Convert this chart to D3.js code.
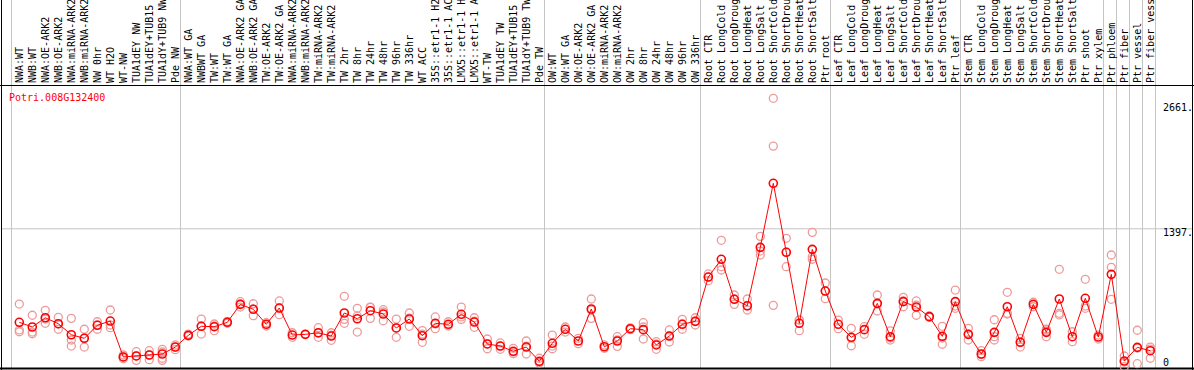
<!DOCTYPE html>
<html>
<head>
<meta charset="utf-8">
<script src="https://cdn.jsdelivr.net/npm/d3@7"></script>
<style>
  body { margin: 0; background: #fff; }
  svg { display: block; }
  text { font-family: "DejaVu Sans Mono", monospace; font-size: 10px; }
</style>
</head>
<body>
<svg id="chart" width="1194" height="370"></svg>
<script>
// sample names, one per column
const labels = [
  "NWA:WT", "NWB:WT", "NWA:OE-ARK2", "NWB:OE-ARK2", "NWA:miRNA-ARK2", "NWB:miRNA-ARK2", "NW 0hr", "WT H2O", "WT-NW",
  "TUA1dEY NW", "TUA1dEY+TUB15 NW", "TUA1dY+TUB9 NW", "Pde NW",
  "NWA:WT GA", "NWBWT GA", "TW:WT", "TW:WT GA", "NWA:OE-ARK2 GA", "NWB:OE-ARK2 GA", "TW:OE-ARK2", "TW:OE-ARK2 GA",
  "NWA:miRNA-ARK2 GA", "NWB:miRNA-ARK2 GA", "TW:miRNA-ARK2", "TW:miRNA-ARK2 GA", "TW 2hr", "TW 8hr", "TW 24hr",
  "TW 48hr", "TW 96hr", "TW 336hr", "WT ACC", "35S::etr1-1 H2O", "35S::etr1-1 ACC", "LMX5::etr1-1 H2O",
  "LMX5::etr1-1 ACC", "WT-TW", "TUA1dEY TW", "TUA1dEY+TUB15 TW", "TUA1dY+TUB9 TW", "Pde TW",
  "OW:WT", "OW:WT GA", "OW:OE-ARK2", "OW:OE-ARK2 GA", "OW:miRNA-ARK2", "OW:miRNA-ARK2 GA", "OW 2hr", "OW 8hr",
  "OW 24hr", "OW 48hr", "OW 96hr", "OW 336hr",
  "Root CTR", "Root LongCold", "Root LongDrought", "Root LongHeat", "Root LongSalt", "Root ShortCold",
  "Root ShortDrought", "Root ShortHeat", "Root ShortSalt", "Ptr root",
  "Leaf CTR", "Leaf LongCold", "Leaf LongDrought", "Leaf LongHeat", "Leaf LongSalt", "Leaf ShortCold",
  "Leaf ShortDrought", "Leaf ShortHeat", "Leaf ShortSalt", "Ptr leaf",
  "Stem CTR", "Stem LongCold", "Stem LongDrought", "Stem LongHeat", "Stem LongSalt", "Stem ShortCold",
  "Stem ShortDrought", "Stem ShortHeat", "Stem ShortSalt", "Ptr shoot", "Ptr xylem",
  "Ptr phloem", "Ptr fiber", "Ptr vessel", "Ptr fiber vessel"
];

// column index where each group starts (last one = end)
const groupBreaks = [0, 13, 41, 53, 63, 73, 84, 85, 86, 87, 88];

const meanValues = [
  450, 403, 496, 436, 325, 289, 420, 463, 101, 111, 121, 131, 201,
  319, 410, 406, 450, 631, 581, 430, 594, 322, 329, 345, 312, 544, 486, 567, 534, 393, 483, 315,
  440, 430, 531, 453, 232, 211, 158, 201, 57,
  239, 380, 262, 584, 204, 262, 386, 376, 222, 312, 430, 460,
  906, 1085, 682, 617, 1205, 1850, 1155, 440, 1185, 765,
  430, 299, 376, 641, 305, 658, 604, 507, 309, 658,
  329, 131, 349, 607, 249, 631, 349, 685, 305, 692, 302,
  933, 60, 198, 164
];

const replicateValues = [
  [634, 373, 355], [521, 335, 352], [571, 440, 483], [500, 380, 433], [490, 211, 272], [380, 201, 292],
  [456, 380, 423], [574, 396, 423], [84, 121, 101], [154, 67, 111], [164, 74, 121], [178, 151, 88, 67],
  [222, 174, 201],
  [332, 312], [483, 332, 413], [433, 366, 413], [460, 440], [658, 604, 634], [637, 517, 584], [446, 413],
  [665, 527, 594], [345, 299], [329], [396, 299, 342], [345, 269, 322], [712, 480, 440], [591, 352, 514],
  [601, 490, 604], [577, 466, 554], [483, 299, 393], [544, 410, 493], [366, 249, 332], [504, 386, 433],
  [456, 413], [604, 480, 504], [496, 400, 463], [282, 184, 232], [178, 242, 211], [188, 134, 151],
  [262, 211, 131], [88, 40, 50],
  [322, 184, 211], [403, 352], [289, 235], [685, 490, 574], [222, 188], [305, 208, 272], [393, 376],
  [446, 282, 403], [255, 178, 232], [373, 252, 312], [480, 380, 433], [496, 423, 463],
  [937, 869, 906], [1276, 977, 1010], [725, 631, 685], [685, 574, 614], [1316, 1128, 1168],
  [2706, 2225, 621], [1296, 1010, 1158], [473, 366, 473], [1356, 1111, 1085], [846, 688, 765],
  [473, 386], [390, 214, 292], [406, 329], [725, 564, 634], [363, 272, 292], [702, 607, 665],
  [665, 521, 624], [514, 500], [410, 229, 292], [775, 591, 614],
  [390, 272, 332], [164, 104, 126], [476, 305, 272], [752, 541, 534], [289, 201, 252], [652, 607],
  [380, 305, 363], [984, 524, 541], [355, 255], [883, 591, 614], [322, 282],
  [1128, 1004, 682], [111, 3, 50], [370, 33, 191], [201, 88, 181]
];

const geneName = "Potri.008G132400";
const yTicks = [0, 1397, 2661];
const yTickLabels = ["0", "1397.", "2661."];

const svg = d3.select("svg#chart"),
    svgWidth = 1194,
    labelBottom = 85,
    plotBottom = 368,
    plotRight = 1192;

const meanColor = "#ff0000",
    repColor = "#ee9a9a",
    gridColor = "#c4c4c4",
    markR = 4;

// column boundaries and centres
const xEdge = d3.scaleLinear().domain([0, labels.length]).range([11, 1155]);
const xMid = i => xEdge(i) + 8.3;
const y = d3.scaleLinear().domain([0, 2661]).range([367, 102.8]);

// horizontal grid line at the middle tick
svg.append("line")
    .attr("x1", 1).attr("x2", plotRight)
    .attr("y1", y(1397) + 0.5).attr("y2", y(1397) + 0.5)
    .attr("stroke", gridColor);

// group separators
svg.selectAll("line.group")
    .data(groupBreaks)
    .join("line")
    .attr("class", "group")
    .attr("x1", d => Math.round(xEdge(d)) + 0.5)
    .attr("x2", d => Math.round(xEdge(d)) + 0.5)
    .attr("y1", 0).attr("y2", plotBottom)
    .attr("stroke", gridColor);

// frame
svg.append("line")
    .attr("x1", 0).attr("x2", svgWidth).attr("y1", labelBottom + 0.5).attr("y2", labelBottom + 0.5)
    .attr("stroke", "#000");
svg.append("line")
    .attr("x1", 0).attr("x2", svgWidth).attr("y1", plotBottom + 0.5).attr("y2", plotBottom + 0.5)
    .attr("stroke", "#000").attr("stroke-width", 2);
svg.append("line")
    .attr("x1", 1.5).attr("x2", 1.5).attr("y1", 0).attr("y2", 370)
    .attr("stroke", "#000");
svg.append("line")
    .attr("x1", plotRight + 0.5).attr("x2", plotRight + 0.5).attr("y1", 0).attr("y2", 370)
    .attr("stroke", "#000");

// column labels, clipped at the top of the picture like the original
svg.append("clipPath").attr("id", "labelClip")
    .append("rect").attr("x", 0).attr("y", 0).attr("width", svgWidth).attr("height", labelBottom);
svg.append("g").attr("clip-path", "url(#labelClip)")
    .selectAll("text")
    .data(labels)
    .join("text")
    .attr("transform", (d, i) => `translate(${xMid(i) + 4},${labelBottom - 2}) rotate(-90)`)
    .attr("fill", "#000")
    .text(d => d);

// y tick labels
svg.selectAll("text.ytick")
    .data(yTicks)
    .join("text")
    .attr("class", "ytick")
    .attr("x", 1163)
    .attr("y", d => Math.min(y(d) + 8, 365.5))
    .attr("fill", "#000")
    .text((d, i) => yTickLabels[i]);

// gene name
svg.append("text")
    .attr("x", 9).attr("y", 101)
    .attr("fill", meanColor)
    .text(geneName);

// replicates
const reps = [];
replicateValues.forEach((vals, i) => vals.forEach(v => reps.push({ i: i, v: v })));
svg.append("g")
    .selectAll("circle")
    .data(reps)
    .join("circle")
    .attr("cx", d => xMid(d.i))
    .attr("cy", d => y(d.v))
    .attr("r", markR)
    .attr("fill", "none")
    .attr("stroke", repColor)
    .attr("stroke-width", 1.3);

// mean line
const line = d3.line().x((d, i) => xMid(i)).y(d => y(d));
svg.append("path")
    .datum(meanValues)
    .attr("d", line)
    .attr("fill", "none")
    .attr("stroke", meanColor)
    .attr("stroke-width", 1);

// means
svg.append("g")
    .selectAll("circle")
    .data(meanValues)
    .join("circle")
    .attr("cx", (d, i) => xMid(i))
    .attr("cy", d => y(d))
    .attr("r", markR)
    .attr("fill", "none")
    .attr("stroke", meanColor)
    .attr("stroke-width", 1.6);
</script>
</body>
</html>
